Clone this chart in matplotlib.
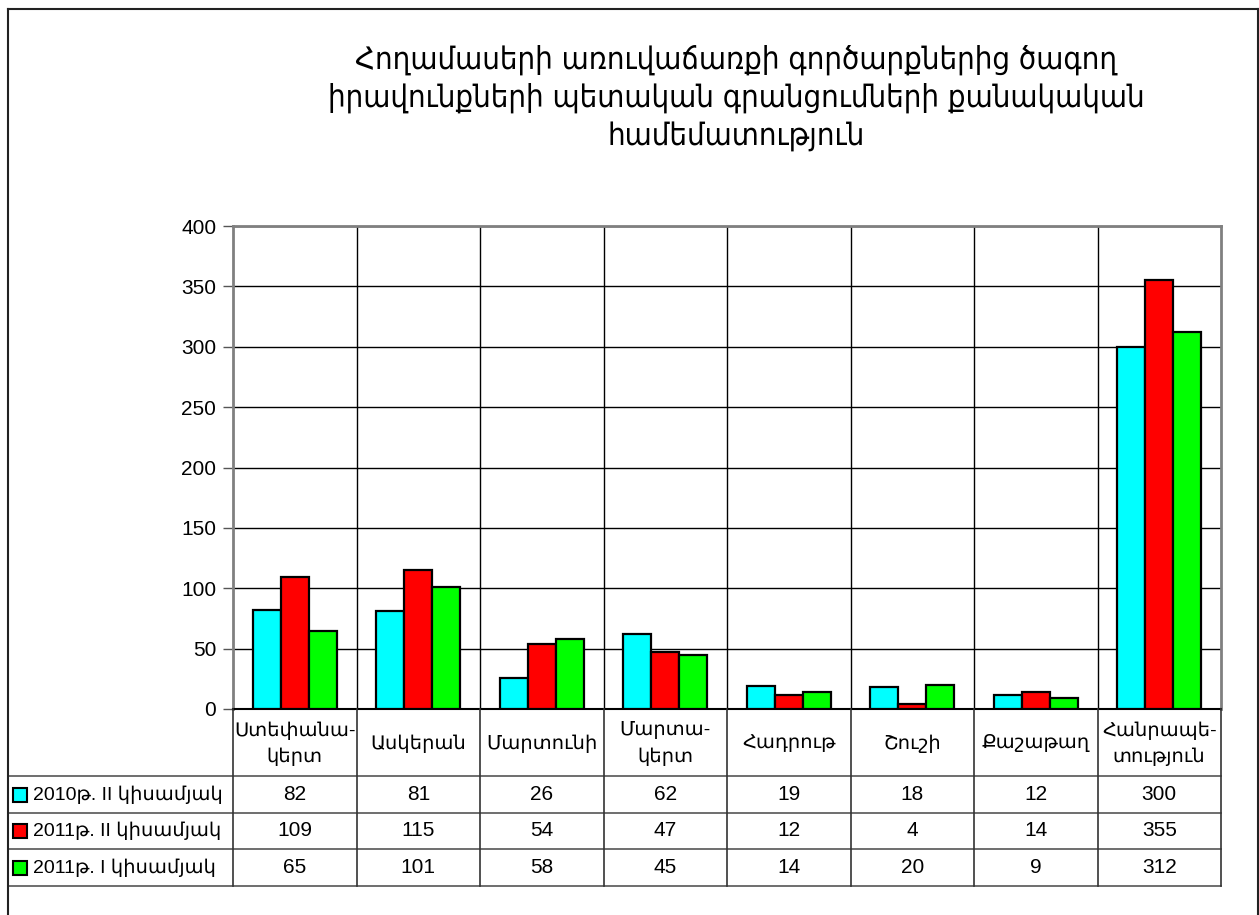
import matplotlib
matplotlib.use("Agg")
import matplotlib.pyplot as plt
import matplotlib.transforms as mtransforms
from matplotlib.patches import Rectangle
from matplotlib.lines import Line2D
import numpy as np

# ---- data ----
categories = ["Ստեփանա-\nկերտ", "Ասկերան", "Մարտունի", "Մարտա-\nկերտ",
              "Հադրութ", "Շուշի", "Քաշաթաղ", "Հանրապե-\nտություն"]
series_names = ["2010թ. II կիսամյակ", "2011թ. II կիսամյակ", "2011թ. I կիսամյակ"]
s2010_h2 = [82, 81, 26, 62, 19, 18, 12, 300]
s2011_h2 = [109, 115, 54, 47, 12, 4, 14, 355]
s2011_h1 = [65, 101, 58, 45, 14, 20, 9, 312]
series_values = [s2010_h2, s2011_h2, s2011_h1]
series_colors = ["#00FFFF", "#FF0000", "#00FF00"]
yticks = [0, 50, 100, 150, 200, 250, 300, 350, 400]
title = ("Հողամասերի առուվաճառքի գործարքներից ծագող\n"
         "իրավունքների պետական գրանցումների քանակական\n"
         "համեմատություն")

W, H = 1259, 915
fig = plt.figure(figsize=(W / 100, H / 100), dpi=100)
fig.patch.set_facecolor("white")

def fx(x):
    return x / W

def fy(y):
    return 1 - y / H

FONT = ["Liberation Sans", "DejaVu Sans"]
FS = 14
FSN = 15

# plot area
x0, x1, ytop, ybot = 233, 1221, 226, 709
ax = fig.add_axes([fx(x0), fy(ybot), fx(x1 - x0), (ybot - ytop) / H])
n = len(categories)
ax.set_xlim(0, n)
ax.set_ylim(0, 400)

bw = 0.227
xc = np.arange(n) + 0.5
for k, (vals, col) in enumerate(zip(series_values, series_colors)):
    ax.bar(xc + (k - 1) * bw, vals, width=bw, color=col, edgecolor="black",
           linewidth=1.6, zorder=3)

ax.set_yticks(yticks)
ax.set_yticklabels([str(t) for t in yticks], fontsize=FSN, family=FONT)
ax.tick_params(axis="y", length=7, width=1, color="#555555", pad=5)
ax.set_xticks([])
ax.yaxis.grid(True, color="black", linewidth=1, zorder=0)
for i in range(1, n):
    ax.axvline(i, color="black", linewidth=1, zorder=1)
for side in ["left", "right", "top"]:
    ax.spines[side].set_color("#808080")
    ax.spines[side].set_linewidth(2)
ax.spines["bottom"].set_color("black")
ax.spines["bottom"].set_linewidth(1.5)

# ---- data table ----
blend = mtransforms.blended_transform_factory(ax.transData, fig.transFigure)
row_lines = [776, 813, 849, 886]
for y in row_lines:
    fig.add_artist(Line2D([fx(8), fx(x1)], [fy(y), fy(y)], color="#555555",
                          linewidth=1.2, transform=fig.transFigure))
for i in range(n + 1):
    fig.add_artist(Line2D([i, i], [fy(ybot), fy(row_lines[-1])], color="#333333",
                          linewidth=1.2, transform=blend, clip_on=False))

# header
for i, cat in enumerate(categories):
    fig.text(xc[i], fy((ybot + row_lines[0]) / 2 + 1), cat, transform=blend,
             ha="center", va="center", fontsize=FS, family=FONT,
             linespacing=1.55)

# rows
for r, (name, vals, col) in enumerate(zip(series_names, series_values, series_colors)):
    ypix = (row_lines[r] + row_lines[r + 1]) / 2
    yc = fy(ypix)
    for i, v in enumerate(vals):
        fig.text(xc[i], yc, str(v), transform=blend, ha="center", va="center",
                 fontsize=FSN, family=FONT)
    fig.add_artist(Rectangle((fx(13), fy(ypix + 7)), fx(14), 14 / H,
                             facecolor=col, edgecolor="black", linewidth=1.5,
                             transform=fig.transFigure))
    fig.text(fx(33), yc, name, ha="left", va="center", fontsize=FS, family=FONT)

# title
fig.text(fx(736), fy(98), title, ha="center", va="center", fontsize=22.3,
         family="DejaVu Sans", fontstretch="condensed", linespacing=1.35)

# outer border
for xs, ys in [([8, 1258], [9, 9]), ([8, 8], [9, 915]), ([1258, 1258], [9, 915])]:
    fig.add_artist(Line2D([fx(v) for v in xs], [fy(v) for v in ys], color="#222222",
                          linewidth=1.5, transform=fig.transFigure))

fig.savefig("out.png", dpi=100)
